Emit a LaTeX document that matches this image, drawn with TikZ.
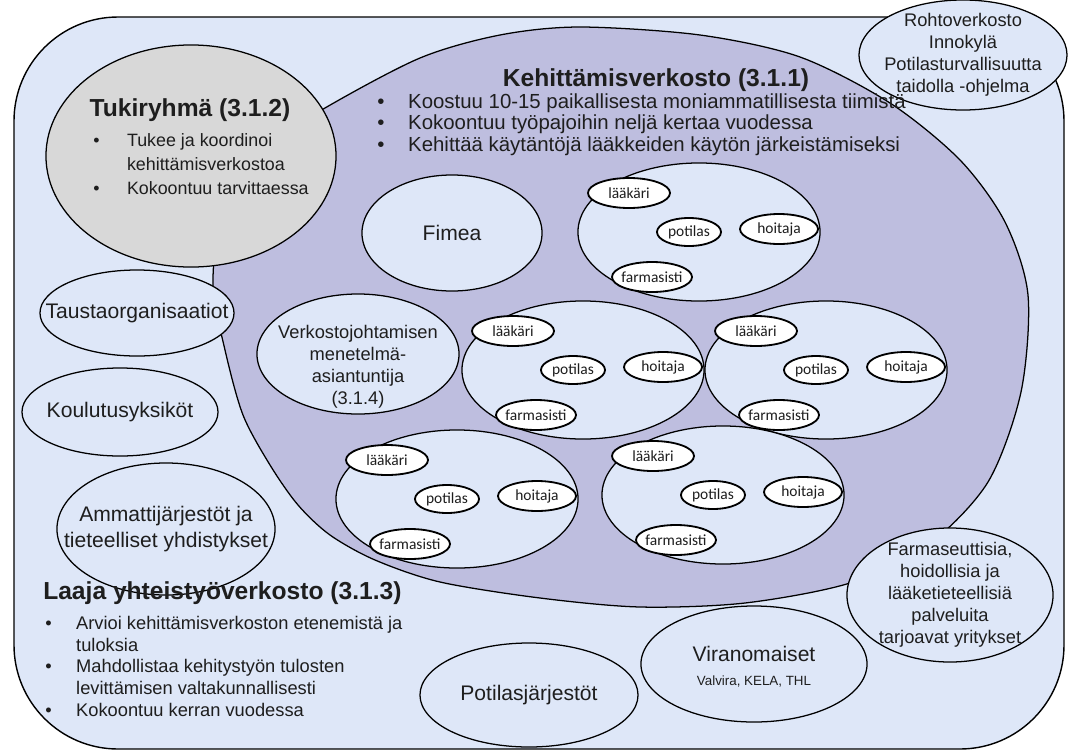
\documentclass[tikz,border=0pt]{standalone}
\usepackage{fontspec}
\setmainfont{Liberation Sans}
\newfontfamily\rolefont{Carlito}
\usetikzlibrary{shapes.geometric}

\definecolor{paleblue}{RGB}{222,231,248}
\definecolor{lilac}{RGB}{190,190,223}
\definecolor{greyfill}{RGB}{216,216,216}
\definecolor{ink}{RGB}{30,30,30}

\newcommand\bigfont{\fontsize{15}{19}\selectfont}
\newcommand\midfont{\fontsize{13}{15.6}\selectfont}
\newcommand\headfont{\fontsize{17.5}{20}\selectfont\bfseries}
\newcommand\bul[1][22pt]{\makebox[#1][l]{\textbullet}}

\tikzset{
  outline/.style={draw=black, line width=0.9pt},
  groupbox/.style={ellipse, outline, fill=paleblue, inner sep=0pt},
  rolebox/.style={ellipse, draw=black, line width=1.3pt, fill=white, inner sep=0pt},
  oval/.style 2 args={minimum width=#1*0.5mm, minimum height=#2*0.5mm},
  bigtext/.style={font=\bigfont, text=ink, align=center, inner sep=0pt},
  midtext/.style={font=\midfont, text=ink, align=center, inner sep=0pt},
  roletext/.style={font=\rolefont\fontsize{11}{13}\selectfont, text=ink, inner sep=0pt},
  headtext/.style={font=\headfont, text=ink, inner sep=0pt},
  listtext/.style={text=ink, align=left, inner sep=0pt, anchor=north west}
}

% one team: big oval and its four roles
\def\team#1(#2,#3){%
  \node[groupbox, oval={121}{69}] (#1) at (#2,#3) {};
  \node[rolebox, oval={41}{15}, label={[roletext]center:lääkäri}] (#1-laak) at (#2-70,#3-39) {};
  \node[rolebox, oval={32}{14}, label={[roletext]center:potilas}] (#1-pot) at (#2-10,#3) {};
  \node[rolebox, oval={39}{15}, label={[roletext]center:hoitaja}] (#1-hoit) at (#2+80,#3-3) {};
  \node[rolebox, oval={40}{15}, label={[roletext]center:farmasisti}] (#1-farm) at (#2-47,#3+45) {};
}

\begin{document}
\begin{tikzpicture}[x=0.025cm, y=-0.025cm]
	%%%%% frame %%%%%
	\useasboundingbox (0,0) rectangle (1079,751);
	\draw[outline, line width=1pt, fill=paleblue, rounded corners=2.6cm] (14,17) rectangle (1064,749);
	
	\node[groupbox, oval={104}{55}, label={[midtext]center:Rohtoverkosto\\Innokylä\\Potilasturvallisuutta\\taidolla -ohjelma}] (rohto) at (963,55) {};
	
	%%%%% kehittamisverkosto %%%%%
	\draw[outline, fill=lilac] plot[smooth cycle] coordinates {
		(580,27) (700,35) (800,57) (890,103) (960,160) (1005,222) (1028,295)
		(1021,392) (988,482) (928,545) (850,583) (745,603) (640,607) (540,598)
		(440,582) (375,560) (330,535) (298,505) (270,465) (243,415) (225,350)
		(213,285) (222,215) (258,152) (325,108) (420,58) (500,35)};
	
	\node[groupbox, fill=greyfill, oval={145}{111}] (tuki) at (191,156) {};
	\node[headtext] (tukititle) at (190,110) {Tukiryhmä (3.1.2)};
	\node[listtext, font=\fontsize{12.7}{17}\selectfont] (tukilist) at (93,133)
		{\bul[24pt]Tukee ja koordinoi\\\hspace*{24pt}kehittämisverkostoa\\\bul[24pt]Kokoontuu tarvittaessa};
	
	\node[headtext] (kehtitle) at (656,80) {Kehittämisverkosto (3.1.1)};
	\node[listtext, font=\fontsize{14.5}{15.3}\selectfont] (kehlist) at (377,93)
		{\bul Koostuu 10-15 paikallisesta moniammatillisesta tiimistä\\\bul Kokoontuu työpajoihin neljä kertaa vuodessa\\\bul Kehittää käytäntöjä lääkkeiden käytön järkeistämiseksi};
	
	\node[groupbox, oval={90}{58}, label={[bigtext]center:Fimea}] (fimea) at (452,233) {};
	\node[groupbox, oval={101}{60}, label={[midtext, yshift=-9pt]center:Verkostojohtamisen\\menetelmä-\\asiantuntija\\(3.1.4)}] (vjohto) at (358,354) {};
	
	\team{tiimi1}(699,232)
	\team{tiimi2}(583,370)
	\team{tiimi3}(826,370)
	\team{tiimi4}(457,499)
	\team{tiimi5}(723,495)
	
	%%%%% laaja yhteistyoverkosto %%%%%
	\node[groupbox, oval={97}{43}, label={[bigtext]center:Taustaorganisaatiot}] (tausta) at (137,313) {};
	\node[groupbox, oval={98}{44}, label={[bigtext]center:Koulutusyksiköt}] (koulu) at (120,412) {};
	\node[groupbox, oval={109}{66}, label={[bigtext]center:Ammattijärjestöt ja\\tieteelliset yhdistykset}] (ammatti) at (166,529) {};
	\node[groupbox, oval={109}{52}, label={[bigtext]center:Potilasjärjestöt}] (potjarj) at (529,695) {};
	\node[groupbox, oval={113}{58}, label={[bigtext, yshift=-2pt]center:{Viranomaiset\\[-2pt]{\fontsize{9.5}{11}\selectfont Valvira, KELA, THL}}}] (viran) at (754,664) {};
	\node[groupbox, oval={103}{67}, label={[midtext]center:{Farmaseuttisia,\\hoidollisia ja\\lääketieteellisiä\\palveluita\\tarjoavat yritykset}}] (yritys) at (950,595) {};
	
	\node[headtext, anchor=west] (laajatitle) at (43,593) {Laaja yhteistyöverkosto (3.1.3)};
	\node[listtext, font=\fontsize{13}{15.4}\selectfont] (laajalist) at (45,616)
		{\bul Arvioi kehittämisverkoston etenemistä ja\\\hspace*{22pt}tuloksia\\\bul Mahdollistaa kehitystyön tulosten\\\hspace*{22pt}levittämisen valtakunnallisesti\\\bul Kokoontuu kerran vuodessa};
\end{tikzpicture}
\end{document}
